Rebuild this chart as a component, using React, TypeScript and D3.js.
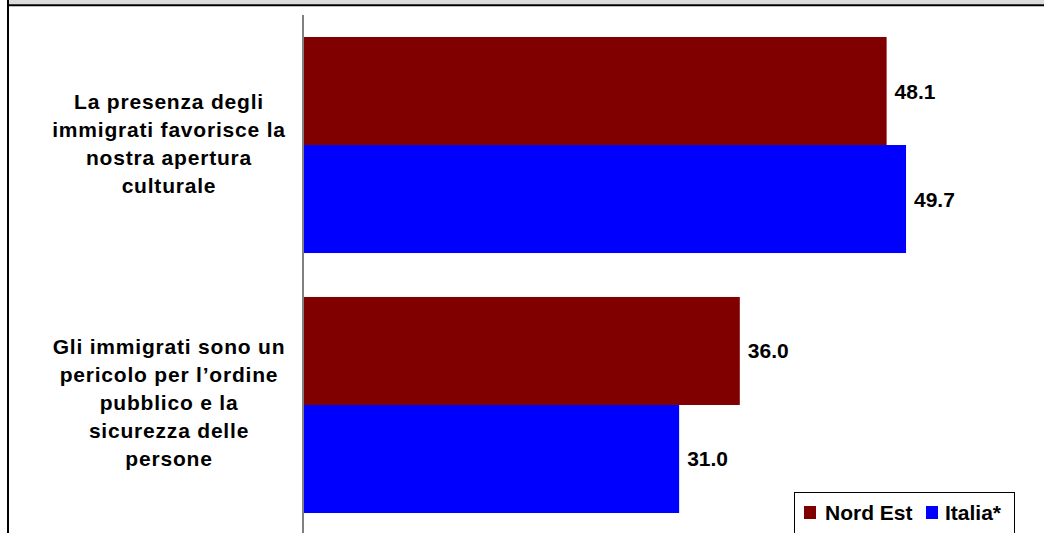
import React from "react";
import * as d3 from "d3";

const categories: string[][] = [
  ["La presenza degli", "immigrati favorisce la", "nostra apertura", "culturale"],
  ["Gli immigrati sono un", "pericolo per l’ordine", "pubblico e la", "sicurezza delle", "persone"],
];
const seriesNames = ["Nord Est", "Italia*"];
const seriesColors = ["#800000", "#0000FF"];
const nordEst = [48.1, 36.0];
const italia = [49.7, 31.0];
const seriesValues = [nordEst, italia];

const W = 1044;
const H = 533;
const FONT = "'Liberation Sans', Arial, Helvetica, sans-serif";

export default function App() {
  const x = d3.scaleLinear().domain([0, 60]).range([303, 1031]);
  const y = d3
    .scaleBand<number>()
    .domain(categories.map((_, i) => i))
    .range([15, 535])
    .paddingInner(0.169)
    .paddingOuter(0.0846);
  const ys = d3
    .scaleBand<number>()
    .domain(seriesNames.map((_, i) => i))
    .range([0, y.bandwidth()]);
  const lineH = 28;

  return (
    <svg
      width={W}
      height={H}
      style={{ position: "absolute", left: 0, top: 0, background: "#fff" }}
      fontFamily={FONT}
    >
      <rect x={0} y={0} width={W} height={H} fill="#fff" />
      {/* top band and frame */}
      <rect x={8} y={0} width={W - 8} height={4.5} fill="#dcdcdc" />
      <line x1={7} x2={W} y1={5.3} y2={5.3} stroke="#000" strokeWidth={2} />
      <line x1={8} x2={8} y1={0} y2={H} stroke="#000" strokeWidth={2} />

      {/* bars */}
      {seriesValues.map((vals, s) =>
        vals.map((v, i) => (
          <rect
            key={`b${s}-${i}`}
            x={x(0)}
            y={(y(i) as number) + (ys(s) as number)}
            width={x(v) - x(0)}
            height={ys.bandwidth()}
            fill={seriesColors[s]}
          />
        ))
      )}

      {/* value labels */}
      {seriesValues.map((vals, s) =>
        vals.map((v, i) => (
          <text
            key={`l${s}-${i}`}
            x={x(v) + 8}
            y={(y(i) as number) + (ys(s) as number) + ys.bandwidth() / 2}
            dominantBaseline="central"
            fontSize={21}
            fontWeight="bold"
            fill="#000"
          >
            {v.toFixed(1)}
          </text>
        ))
      )}

      {/* axis line */}
      <line x1={x(0)} x2={x(0)} y1={15} y2={H} stroke="#808080" strokeWidth={2} />

      {/* category labels */}
      {categories.map((lines, i) => {
        const cy = (y(i) as number) + y.bandwidth() / 2 - 2;
        const start = cy - ((lines.length - 1) * lineH) / 2;
        return (
          <text
            key={`c${i}`}
            textAnchor="middle"
            fontSize={21}
            fontWeight="bold"
            letterSpacing={0.8}
            fill="#000"
          >
            {lines.map((ln, k) => (
              <tspan key={k} x={169} y={start + k * lineH} dominantBaseline="central">
                {ln}
              </tspan>
            ))}
          </text>
        );
      })}

      {/* legend */}
      <rect x={794.5} y={492.5} width={220} height={60} fill="#fff" stroke="#000" strokeWidth={1} />
      {seriesNames.map((name, s) => {
        const lx = s === 0 ? 804 : 926;
        return (
          <g key={`lg${s}`}>
            <rect x={lx} y={506} width={12} height={13} fill={seriesColors[s]} />
            <text
              x={lx + (s === 0 ? 21 : 19)}
              y={512.5}
              dominantBaseline="central"
              fontSize={21}
              fontWeight="bold"
              fill="#000"
            >
              {name}
            </text>
          </g>
        );
      })}
    </svg>
  );
}
